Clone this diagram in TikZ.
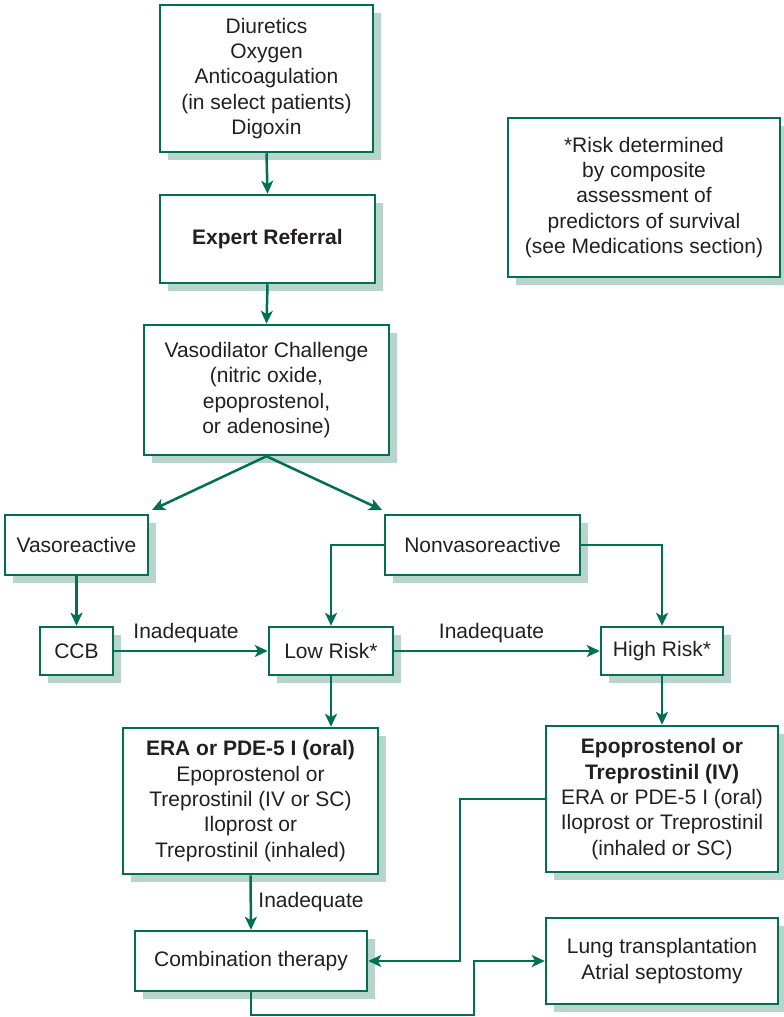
\documentclass[tikz,border=0pt]{standalone}
\usepackage{fontspec}
\setmainfont{Liberation Sans}
\usetikzlibrary{arrows.meta,shadows}
\definecolor{lgreen}{HTML}{00704F}
\definecolor{lshadow}{HTML}{B8D5CB}
\definecolor{ltext}{HTML}{231F20}
\tikzset{
  box/.style={draw=lgreen, line width=2.5pt, fill=white, inner sep=0pt, align=center,
    text=ltext, font=\fontsize{21}{25.3}\selectfont,
    drop shadow={shadow xshift=8pt, shadow yshift=-8pt, fill=lshadow, opacity=1}},
  conn/.style={draw=lgreen, line width=2.5pt},
  arr/.style={conn, -{Stealth[length=13pt,width=12pt,inset=3.5pt]}},
  lbl/.style={text=ltext, font=\fontsize{21}{25.3}\selectfont, inner sep=0pt, anchor=base}
}
\begin{document}
\begin{tikzpicture}[x=1pt,y=-1pt]
\useasboundingbox (0,0) rectangle (784,1017);
\node[box, minimum width=213pt, minimum height=147pt] (d1) at (266.5,78.5)
  {Diuretics\\Oxygen\\Anticoagulation\\(in select patients)\\Digoxin};
\node[box, minimum width=215pt, minimum height=88pt] (ref) at (267.5,239)
  {\textbf{Expert Referral}};
\node[box, minimum width=245pt, minimum height=130pt] (vaso) at (266.5,390)
  {Vasodilator Challenge\\(nitric oxide,\\epoprostenol,\\or adenosine)};
\node[box, minimum width=272pt, minimum height=159pt] (note) at (644,197.5)
  {*Risk determined\\by composite\\assessment of\\predictors of survival\\(see Medications section)};
\node[box, minimum width=143pt, minimum height=60pt] (vr) at (76.5,545) {Vasoreactive};
\node[box, minimum width=195pt, minimum height=60pt] (nvr) at (482.5,545) {Nonvasoreactive};
\node[box, minimum width=73pt, minimum height=48pt] (ccb) at (76.5,651) {CCB};
\node[box, minimum width=124pt, minimum height=48pt] (low) at (331,651) {Low Risk*};
\node[box, minimum width=122pt, minimum height=48pt] (high) at (662,651) {High Risk*};
\node[box, minimum width=255pt, minimum height=146pt] (era) at (250.5,801)
  {\textbf{ERA or PDE-5 I (oral)}\\Epoprostenol or\\Treprostinil (IV or SC)\\Iloprost or\\Treprostinil (inhaled)};
\node[box, minimum width=232pt, minimum height=146pt] (epo) at (662,799)
  {\textbf{Epoprostenol or}\\\textbf{Treprostinil (IV)}\\ERA or PDE-5 I (oral)\\Iloprost or Treprostinil\\(inhaled or SC)};
\node[box, minimum width=232pt, minimum height=60pt] (comb) at (251,961) {Combination therapy};
\node[box, minimum width=232pt, minimum height=86pt] (lung) at (662,961)
  {Lung transplantation\\Atrial septostomy};
\coordinate (vrtip) at (152,510);
\coordinate (nvrtip) at (382,510);
\coordinate (j1) at (460,961);
\coordinate (j2) at (474,961);
\coordinate (j3) at (251,1015);
\draw[arr] (d1.south) -- (ref.north);
\draw[arr] (ref.south) -- (vaso.north);
\draw[arr] (vaso.south) -- (vrtip);
\draw[arr] (vaso.south) -- (nvrtip);
\draw[arr] (vr.south) -- (ccb.north);
\draw[arr] (ccb.east) -- (low.west);
\node[lbl] (l1) at (186,638) {Inadequate};
\draw[arr] (nvr.west) -| (low.north);
\draw[arr] (nvr.east) -| (high.north);
\draw[arr] (low.east) -- (high.west);
\node[lbl] (l2) at (491.5,638) {Inadequate};
\draw[arr] (low.south) -- (low.south |- era.north);
\draw[arr] (high.south) -- (epo.north);
\draw[arr] (era.south) -- (comb.north);
\node[lbl] (l3) at (311,907) {Inadequate};
\draw[arr] (epo.west) -| (j1) -- (comb.east);
\draw[arr] (comb.south) -- (j3) -| (j2) -- (lung.west);
\end{tikzpicture}
\end{document}
